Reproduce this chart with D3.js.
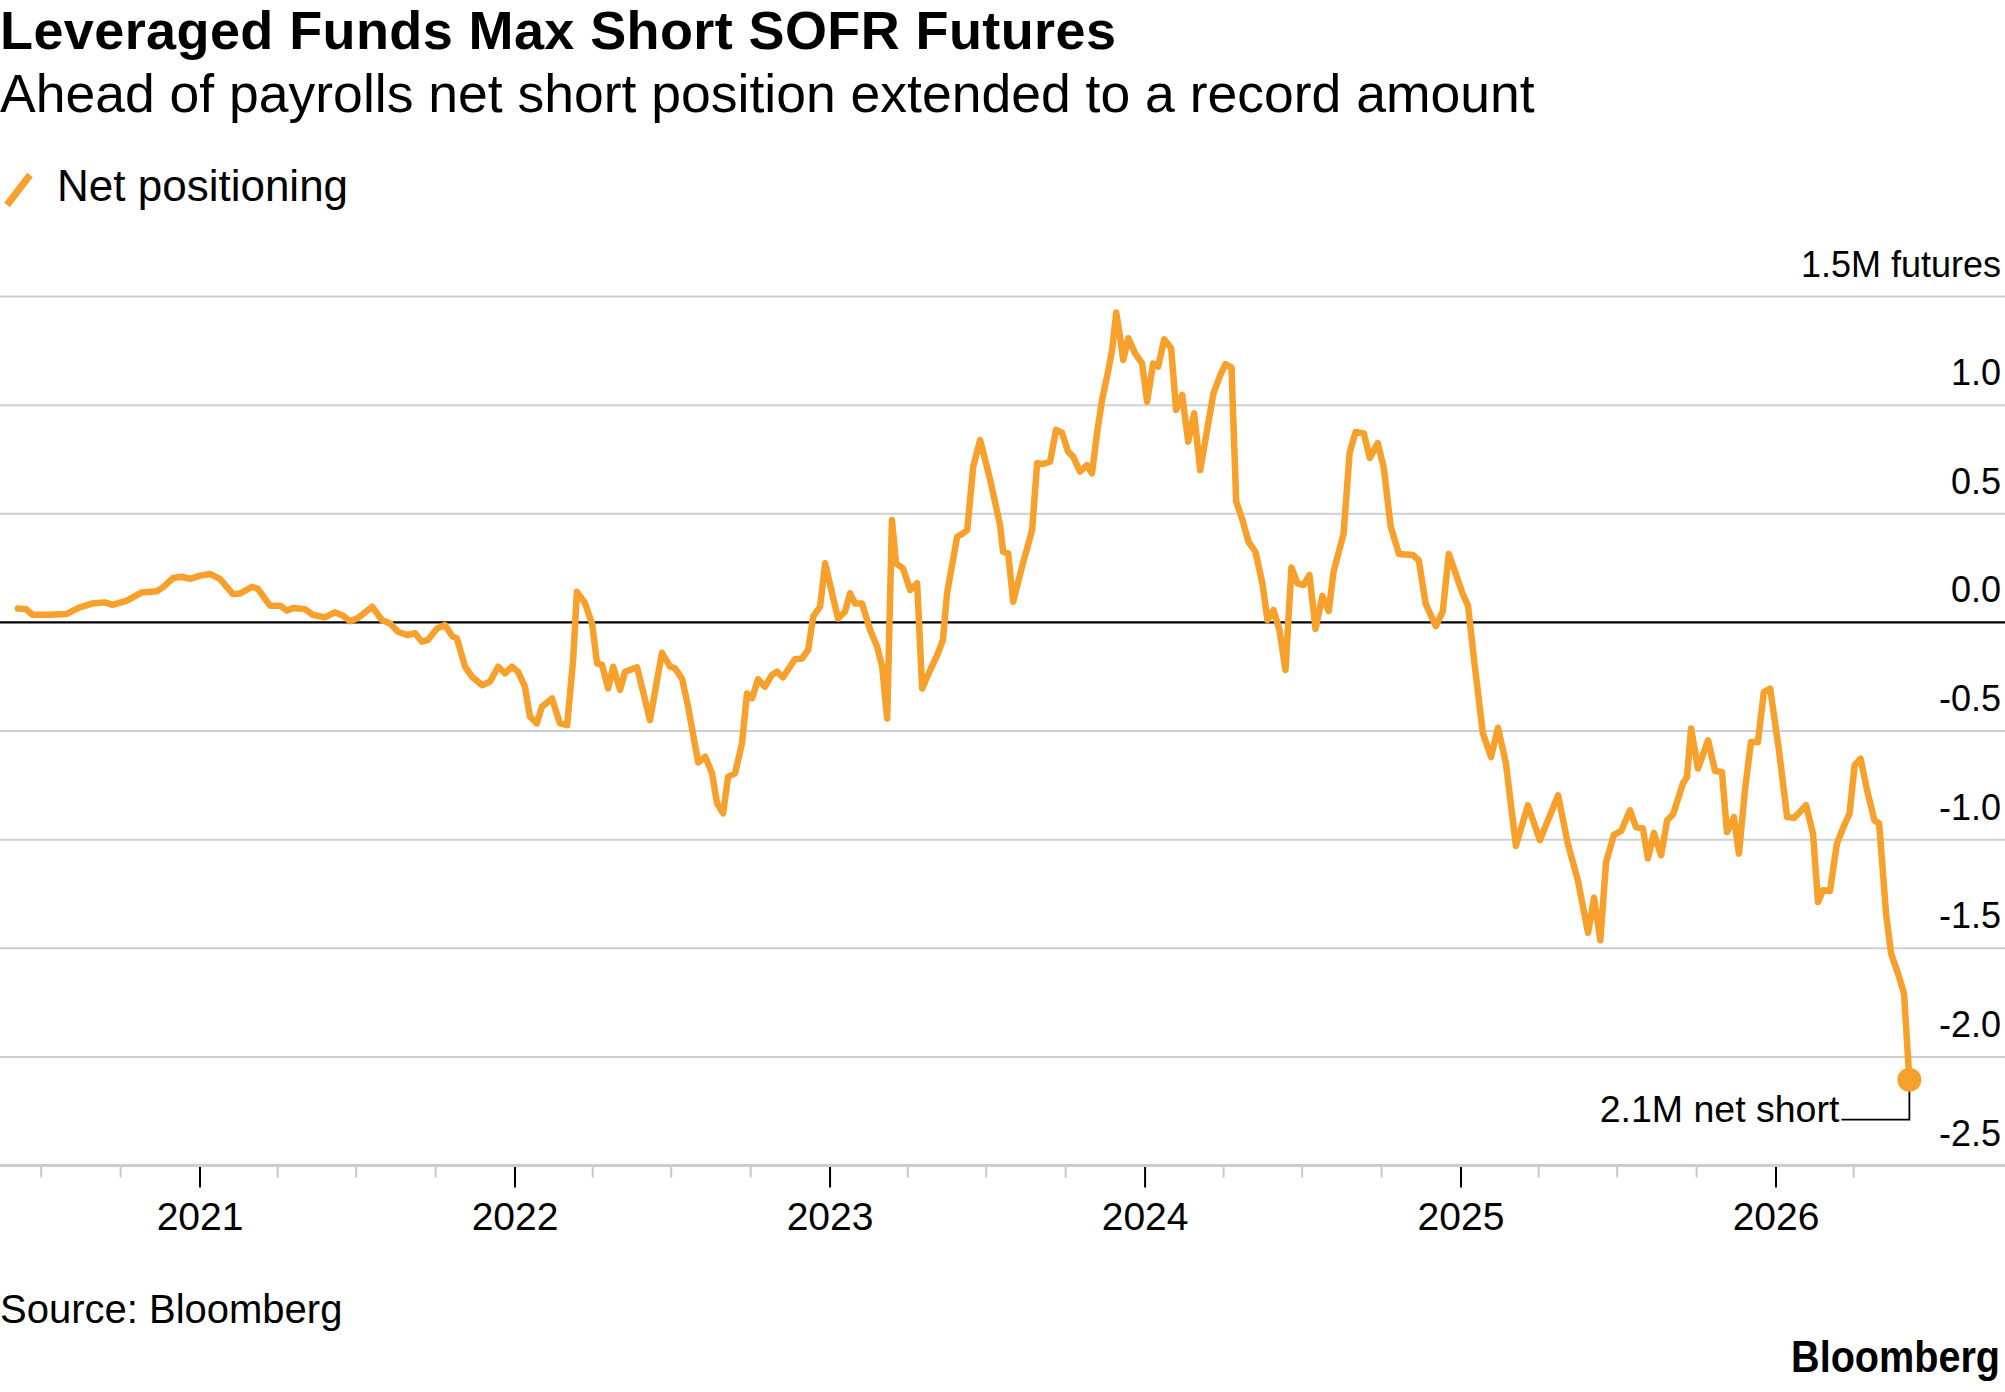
<!DOCTYPE html>
<html lang="en">
<head>
<meta charset="UTF-8">
<title>Leveraged Funds Max Short SOFR Futures</title>
<script src="https://cdn.jsdelivr.net/npm/d3@7"></script>
<style>
  body { margin: 0; background: #fff; }
  svg text { font-family: "Liberation Sans", Arial, Helvetica, sans-serif; fill: #000; }
</style>
</head>
<body>
<script>
// weekly net positioning (decimal year, million contracts)
const dates = [
  2020.425, 2020.451, 2020.471, 2020.525, 2020.578, 2020.621, 2020.662, 2020.700, 2020.725, 2020.770,
  2020.817, 2020.865, 2020.884, 2020.916, 2020.944, 2020.970, 2021.002, 2021.033, 2021.065, 2021.106,
  2021.129, 2021.167, 2021.186, 2021.224, 2021.256, 2021.278, 2021.297, 2021.335, 2021.360, 2021.398,
  2021.430, 2021.456, 2021.478, 2021.503, 2021.548, 2021.579, 2021.605, 2021.630, 2021.659, 2021.684,
  2021.706, 2021.725, 2021.754, 2021.779, 2021.802, 2021.817, 2021.843, 2021.865, 2021.897, 2021.922,
  2021.948, 2021.970, 2021.992, 2022.011, 2022.033, 2022.049, 2022.071, 2022.087, 2022.119, 2022.144,
  2022.167, 2022.186, 2022.198, 2022.224, 2022.246, 2022.262, 2022.278, 2022.297, 2022.313, 2022.335,
  2022.351, 2022.389, 2022.430, 2022.468, 2022.494, 2022.510, 2022.532, 2022.551, 2022.583, 2022.605,
  2022.627, 2022.643, 2022.662, 2022.678, 2022.700, 2022.722, 2022.738, 2022.754, 2022.773, 2022.795,
  2022.817, 2022.833, 2022.852, 2022.890, 2022.913, 2022.932, 2022.948, 2022.970, 2022.986, 2023.008,
  2023.027, 2023.049, 2023.065, 2023.081, 2023.103, 2023.129, 2023.151, 2023.167, 2023.183, 2023.198,
  2023.211, 2023.233, 2023.256, 2023.278, 2023.294, 2023.310, 2023.344, 2023.360, 2023.373, 2023.405,
  2023.421, 2023.437, 2023.456, 2023.478, 2023.510, 2023.541, 2023.551, 2023.567, 2023.583, 2023.611,
  2023.643, 2023.659, 2023.678, 2023.700, 2023.719, 2023.738, 2023.757, 2023.773, 2023.795, 2023.817,
  2023.833, 2023.849, 2023.865, 2023.884, 2023.897, 2023.910, 2023.922, 2023.932, 2023.948, 2023.970,
  2023.992, 2024.008, 2024.027, 2024.043, 2024.062, 2024.084, 2024.100, 2024.119, 2024.138, 2024.157,
  2024.176, 2024.198, 2024.218, 2024.240, 2024.256, 2024.275, 2024.290, 2024.310, 2024.329, 2024.351,
  2024.373, 2024.389, 2024.408, 2024.427, 2024.446, 2024.465, 2024.484, 2024.503, 2024.522, 2024.541,
  2024.563, 2024.583, 2024.598, 2024.630, 2024.649, 2024.668, 2024.694, 2024.713, 2024.738, 2024.757,
  2024.779, 2024.805, 2024.849, 2024.868, 2024.890, 2024.922, 2024.944, 2024.963, 2025.008, 2025.024,
  2025.043, 2025.071, 2025.097, 2025.119, 2025.144, 2025.176, 2025.214, 2025.252, 2025.310, 2025.341,
  2025.373, 2025.405, 2025.424, 2025.444, 2025.462, 2025.487, 2025.510, 2025.538, 2025.557, 2025.579,
  2025.595, 2025.614, 2025.637, 2025.656, 2025.675, 2025.706, 2025.719, 2025.732, 2025.754, 2025.786,
  2025.808, 2025.830, 2025.846, 2025.868, 2025.884, 2025.903, 2025.922, 2025.944, 2025.963, 2025.983,
  2026.011, 2026.037, 2026.059, 2026.097, 2026.119, 2026.135, 2026.151, 2026.173, 2026.195, 2026.218,
  2026.235, 2026.251, 2026.270, 2026.292, 2026.314, 2026.329, 2026.351, 2026.367, 2026.389, 2026.408,
  2026.425
]
const netPositioning = [
  0.064, 0.061, 0.035, 0.035, 0.038, 0.069, 0.087, 0.092, 0.081, 0.100,
  0.138, 0.143, 0.161, 0.204, 0.210, 0.200, 0.215, 0.223, 0.200, 0.130,
  0.133, 0.164, 0.153, 0.077, 0.077, 0.054, 0.066, 0.061, 0.035, 0.023,
  0.046, 0.030, 0.005, 0.020, 0.072, 0.011, -0.005, -0.043, -0.058, -0.050,
  -0.089, -0.081, -0.028, -0.012, -0.063, -0.074, -0.204, -0.250, -0.289, -0.273,
  -0.204, -0.235, -0.204, -0.227, -0.296, -0.434, -0.465, -0.388, -0.350, -0.465,
  -0.473, -0.173, 0.141, 0.087, -0.005, -0.189, -0.196, -0.304, -0.204, -0.311,
  -0.227, -0.207, -0.450, -0.140, -0.204, -0.212, -0.260, -0.388, -0.645, -0.618,
  -0.695, -0.833, -0.879, -0.710, -0.695, -0.557, -0.327, -0.350, -0.262, -0.296,
  -0.242, -0.227, -0.253, -0.170, -0.166, -0.127, 0.026, 0.072, 0.272, 0.134,
  0.018, 0.049, 0.134, 0.087, 0.087, -0.035, -0.112, -0.204, -0.442, 0.471,
  0.272, 0.249, 0.149, 0.180, -0.304, -0.250, -0.143, -0.081, 0.134, 0.394,
  0.407, 0.425, 0.717, 0.839, 0.655, 0.450, 0.325, 0.318, 0.095, 0.256,
  0.425, 0.732, 0.729, 0.740, 0.886, 0.873, 0.786, 0.763, 0.694, 0.724,
  0.686, 0.870, 1.024, 1.154, 1.254, 1.426, 1.315, 1.208, 1.308, 1.238,
  1.192, 1.016, 1.192, 1.177, 1.303, 1.262, 0.978, 1.047, 0.832, 0.962,
  0.701, 0.886, 1.054, 1.139, 1.189, 1.174, 0.556, 0.471, 0.371, 0.325,
  0.180, 0.011, 0.057, -0.035, -0.219, 0.253, 0.180, 0.172, 0.218, -0.030,
  0.122, 0.052, 0.232, 0.408, 0.780, 0.876, 0.870, 0.757, 0.825, 0.714,
  0.442, 0.315, 0.310, 0.286, 0.085, -0.017, 0.051, 0.315, 0.128, 0.077,
  -0.170, -0.510, -0.620, -0.485, -0.646, -1.029, -0.842, -1.003, -0.796, -1.020,
  -1.190, -1.429, -1.267, -1.463, -1.105, -0.978, -0.960, -0.865, -0.942, -0.949,
  -1.087, -0.969, -1.072, -0.911, -0.883, -0.742, -0.712, -0.489, -0.673, -0.543,
  -0.684, -0.689, -0.965, -0.896, -1.064, -0.773, -0.551, -0.551, -0.321, -0.305,
  -0.589, -0.896, -0.900, -0.842, -0.972, -1.287, -1.233, -1.236, -1.018, -0.934,
  -0.880, -0.658, -0.627, -0.781, -0.911, -0.926, -1.341, -1.525, -1.617, -1.709,
  -2.105
]
const yTicks = [1.5, 1.0, 0.5, 0, -0.5, -1.0, -1.5, -2.0, -2.5]
const yTickLabels = ['1.5M futures', '1.0', '0.5', '0.0', '-0.5', '-1.0', '-1.5', '-2.0', '-2.5']
const xYears = [2021, 2022, 2023, 2024, 2025, 2026]

const [width, height] = [2005, 1392]
const orange = '#f8a02c'

// decimal year -> Date
const toDate = t => {
  const yr = Math.floor(t)
  const a = new Date(yr, 0, 1), b = new Date(yr + 1, 0, 1)
  return new Date(+a + (t - yr) * (b - a))
}
const data = dates.map((d, i) => ({date: toDate(d), value: netPositioning[i]}))

const x = d3.scaleTime()
  .domain([new Date(2021, 0, 1), new Date(2026, 0, 1)])
  .range([199.5, 1775.5])
const y = d3.scaleLinear()
  .domain([-2.5, 1.5])
  .range([1165.5, 296.5])

const svg = d3.select('body').append('svg')
  .attr('width', width)
  .attr('height', height)

// titles
svg.append('text').attr('x', 0).attr('y', 49)
  .attr('font-size', 54).attr('font-weight', 'bold').attr('letter-spacing', 0.4)
  .text('Leveraged Funds Max Short SOFR Futures')
svg.append('text').attr('x', 0).attr('y', 112)
  .attr('font-size', 53.5)
  .text('Ahead of payrolls net short position extended to a record amount')

// legend
svg.append('line')
  .attr('x1', 7).attr('y1', 205).attr('x2', 30).attr('y2', 175)
  .attr('stroke', orange).attr('stroke-width', 7)
svg.append('text').attr('x', 57).attr('y', 201)
  .attr('font-size', 44)
  .text('Net positioning')

// gridlines
svg.selectAll('line.grid').data(yTicks.filter(d => d !== 0 && d !== -2.5)).enter()
  .append('line').attr('class', 'grid')
  .attr('x1', 0).attr('x2', width)
  .attr('y1', d => y(d)).attr('y2', d => y(d))
  .attr('stroke', '#cfcfcf').attr('stroke-width', 2)

svg.selectAll('text.ylab').data(yTicks).enter()
  .append('text').attr('class', 'ylab')
  .attr('x', 2001).attr('y', d => y(d) - 20)
  .attr('text-anchor', 'end')
  .attr('font-size', 36)
  .text((d, i) => yTickLabels[i])

// x axis: quarterly minor ticks, yearly major ticks
const axisG = svg.append('g').attr('transform', `translate(0,${y(-2.5)})`)
const minor = d3.timeMonth.range(new Date(2020, 6, 1), new Date(2026, 4, 1), 3)
  .filter(d => d.getMonth() !== 0)
axisG.append('g')
  .call(d3.axisBottom(x).tickValues(minor).tickSize(12).tickFormat(''))
  .call(g => g.select('.domain').remove())
  .call(g => g.selectAll('line').attr('stroke', '#c8c8c8').attr('stroke-width', 2))
axisG.append('g')
  .call(d3.axisBottom(x).tickValues(xYears.map(v => new Date(v, 0, 1)))
    .tickSize(22).tickPadding(15).tickFormat(d3.timeFormat('%Y')))
  .call(g => g.select('.domain').remove())
  .call(g => g.selectAll('line').attr('stroke', '#000').attr('stroke-width', 2))
  .call(g => g.selectAll('text')
    .attr('font-size', 39)
    .attr('font-family', '"Liberation Sans", Arial, sans-serif')
    .attr('fill', '#000'))
axisG.append('line')
  .attr('x1', 0).attr('x2', width)
  .attr('stroke', '#cccccc').attr('stroke-width', 3)

// zero line
svg.append('line')
  .attr('x1', 0).attr('x2', width)
  .attr('y1', y(0)).attr('y2', y(0))
  .attr('stroke', '#000').attr('stroke-width', 2.2)

// series
const line = d3.line()
  .x(d => x(d.date))
  .y(d => y(d.value))
svg.append('path').datum(data)
  .attr('d', line)
  .attr('fill', 'none')
  .attr('stroke', orange)
  .attr('stroke-width', 6.5)
  .attr('stroke-linejoin', 'round')
  .attr('stroke-linecap', 'round')

// last point annotation
const last = data[data.length - 1]
const lx = x(last.date), ly = y(last.value)
svg.append('path')
  .attr('d', `M${lx},${ly}V${ly + 40}H${lx - 68}`)
  .attr('fill', 'none').attr('stroke', '#000').attr('stroke-width', 1.8)
svg.append('circle')
  .attr('cx', lx).attr('cy', ly).attr('r', 12)
  .attr('fill', orange)
svg.append('text')
  .attr('x', lx - 70).attr('y', ly + 42)
  .attr('text-anchor', 'end')
  .attr('font-size', 37.5)
  .text('2.1M net short')

// footer
svg.append('text').attr('x', 0).attr('y', 1323)
  .attr('font-size', 40)
  .text('Source: Bloomberg')
svg.append('g')
  .attr('transform', 'translate(2000,1372) scale(0.88,1)')
  .append('text')
  .attr('text-anchor', 'end')
  .attr('font-size', 45).attr('font-weight', 'bold')
  .text('Bloomberg')
</script>
</body>
</html>
